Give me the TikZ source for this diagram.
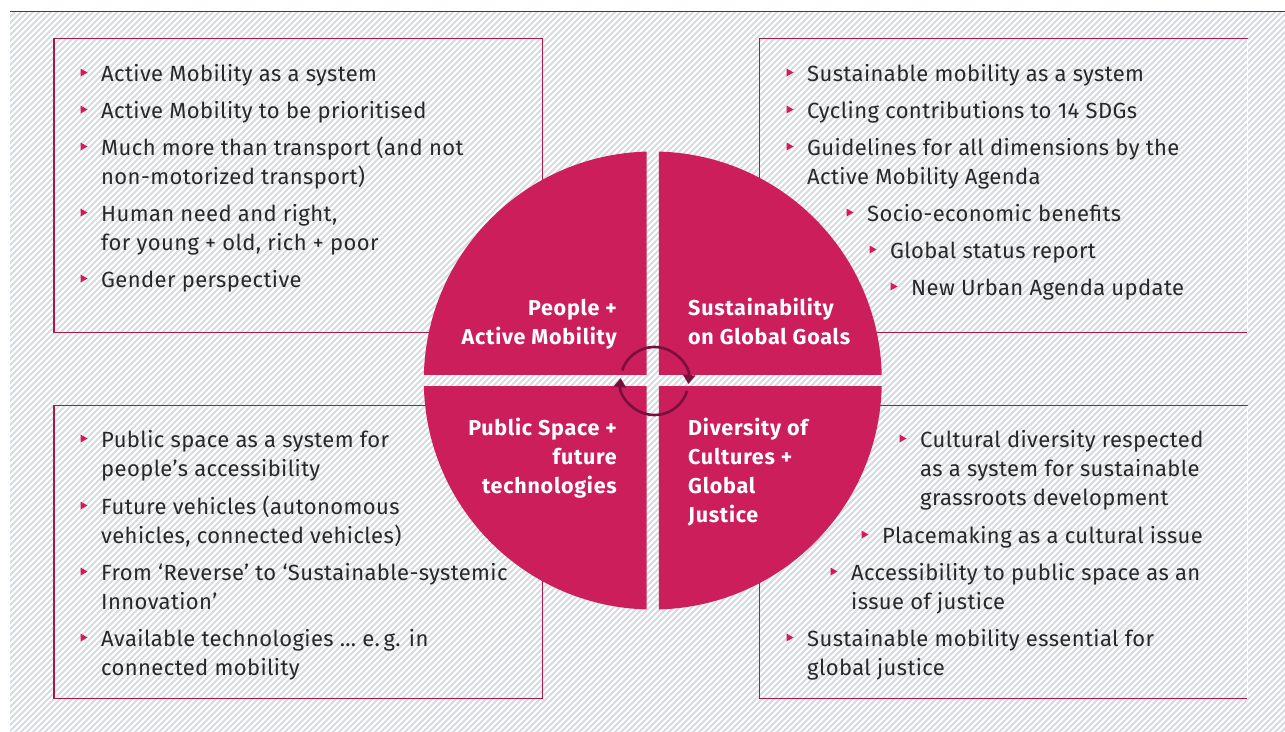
\documentclass[tikz,border=0pt]{standalone}
\usepackage{fontspec}
\setmainfont{Fira Sans}
\newfontfamily\bodyfont[LetterSpace=1.8]{Fira Sans}
\newfontfamily\lblfont[LetterSpace=3.5]{Fira Sans}
\usetikzlibrary{arrows.meta,calc}
\definecolor{crim}{RGB}{205,30,92}
\definecolor{boxc}{RGB}{165,25,75}
\definecolor{bulc}{RGB}{215,25,90}
\definecolor{hatchc}{RGB}{216,220,225}
\definecolor{txtc}{RGB}{40,40,40}
\definecolor{arrc}{RGB}{120,15,60}
\tikzset{
  txt/.style={anchor=base west,inner sep=0pt,text=txtc,font=\bodyfont\fontsize{22}{29}\selectfont},
  lblr/.style={anchor=base east,inner sep=0pt,text=white,font=\lblfont\bfseries\fontsize{21.5}{29}\selectfont},
  lbll/.style={anchor=base west,inner sep=0pt,text=white,font=\lblfont\bfseries\fontsize{21.5}{29}\selectfont},
  boxline/.style={draw=boxc,line width=1.3pt},
  cyc/.style={draw=arrc,line width=2.6pt,-{Triangle[width=12pt,length=9pt]}}
}
\newcommand\myitem[4]{%
  \fill[bulc] (#2-20.5,#3-12.5) -- (#2-13.5,#3-8.5) -- (#2-20.5,#3-4.5) -- cycle;
  \node[txt] (#1) at (#2,#3) {#4};}
\newcommand\mycont[4]{\node[txt] (#1) at (#2,#3) {#4};}
\begin{document}
\begin{tikzpicture}[x=1pt,y=-1pt]
\useasboundingbox (0,0) rectangle (1285,731);
\fill[white] (0,0) rectangle (1285,731);
% hatch background
\begin{scope}
  \clip (10,12) rectangle (1285,731);
  \foreach \i in {-750,-744,...,1290} \draw[hatchc,line width=2.1pt] (\i,735) -- (\i+740,-5);
\end{scope}
\draw[black!75,line width=1.4pt] (10,11.5) -- (1285,11.5);
% boxes
\draw[boxline] (54,38.5) rectangle (542.5,332.5);
\draw[boxline] (54,405.5) rectangle (542.5,698.5);
\draw[boxline] (1247.5,38.5) -- (759.5,38.5) -- (759.5,332.5) -- (1247.5,332.5);
\draw[boxline] (1247.5,405.5) -- (759.5,405.5) -- (759.5,698.5) -- (1247.5,698.5);
\draw[white,line width=0.8pt] (1247.5,38.5) -- (1247.5,332.5);
\draw[white,line width=0.8pt] (1247.5,405.5) -- (1247.5,698.5);
% circle quadrants
\begin{scope}\clip (400,140) rectangle (646.7,374.3); \fill[crim] (652.8,380.5) circle (229); \end{scope}
\begin{scope}\clip (658.9,140) rectangle (900,374.3); \fill[crim] (652.8,380.5) circle (229); \end{scope}
\begin{scope}\clip (400,386.7) rectangle (646.7,620); \fill[crim] (652.8,380.5) circle (229); \end{scope}
\begin{scope}\clip (658.9,386.7) rectangle (900,620); \fill[crim] (652.8,380.5) circle (229); \end{scope}
% cycle arrows (y axis points down: angles mirrored)
\coordinate (cc) at (654.5,381);
\draw[cyc] ($(cc)+(-162:34)$) arc[start angle=-162,end angle=5,radius=34];
\draw[cyc] ($(cc)+(17:34)$) arc[start angle=17,end angle=185,radius=34];
% center labels
\node[lblr] (q1a) at (617,315) {People +};
\node[lblr] (q1b) at (617,344) {Active Mobility};
\node[lbll] (q2a) at (688,315) {Sustainability};
\node[lbll] (q2b) at (688,344) {on Global Goals};
\node[lblr] (q3a) at (617,435) {Public Space +};
\node[lblr] (q3b) at (617,464) {future};
\node[lblr] (q3c) at (617,493) {technologies};
\node[lbll] (q4a) at (688,435) {Diversity of};
\node[lbll] (q4b) at (688,464) {Cultures +};
\node[lbll] (q4c) at (688,493) {Global};
\node[lbll] (q4d) at (688,522) {Justice};
% top left
\myitem{tl1}{101}{81}{Active Mobility as a system}
\myitem{tl2}{101}{118}{Active Mobility to be prioritised}
\myitem{tl3}{101}{155}{Much more than transport (and not}
\mycont{tl3b}{101}{184}{non-motorized transport)}
\myitem{tl4}{101}{221}{Human need and right,}
\mycont{tl4b}{101}{250}{for young + old, rich + poor}
\myitem{tl5}{101}{287}{Gender perspective}
% top right
\myitem{tr1}{807}{81}{Sustainable mobility as a system}
\myitem{tr2}{807}{118}{Cycling contributions to 14 SDGs}
\myitem{tr3}{807}{155}{Guidelines for all dimensions by the}
\mycont{tr3b}{807}{184}{Active Mobility Agenda}
\myitem{tr4}{867}{221}{Socio-economic benefits}
\myitem{tr5}{890}{258}{Global status report}
\myitem{tr6}{911}{295}{New Urban Agenda update}
% bottom left
\myitem{bl1}{101}{447}{Public space as a system for}
\mycont{bl1b}{101}{476}{people’s accessibility}
\myitem{bl2}{101}{514}{Future vehicles (autonomous}
\mycont{bl2b}{101}{543}{vehicles, connected vehicles)}
\myitem{bl3}{101}{580}{From ‘Reverse’ to ‘Sustainable-systemic}
\mycont{bl3b}{101}{609}{Innovation’}
\myitem{bl4}{101}{646}{Available technologies … e.\,g. in}
\mycont{bl4b}{101}{675}{connected mobility}
% bottom right
\myitem{br1}{920}{447}{Cultural diversity respected}
\mycont{br1b}{920}{476}{as a system for sustainable}
\mycont{br1c}{920}{505}{grassroots development}
\myitem{br2}{882}{543}{Placemaking as a cultural issue}
\myitem{br3}{851}{580}{Accessibility to public space as an}
\mycont{br3b}{851}{609}{issue of justice}
\myitem{br4}{807}{646}{Sustainable mobility essential for}
\mycont{br4b}{807}{675}{global justice}
\end{tikzpicture}
\end{document}
